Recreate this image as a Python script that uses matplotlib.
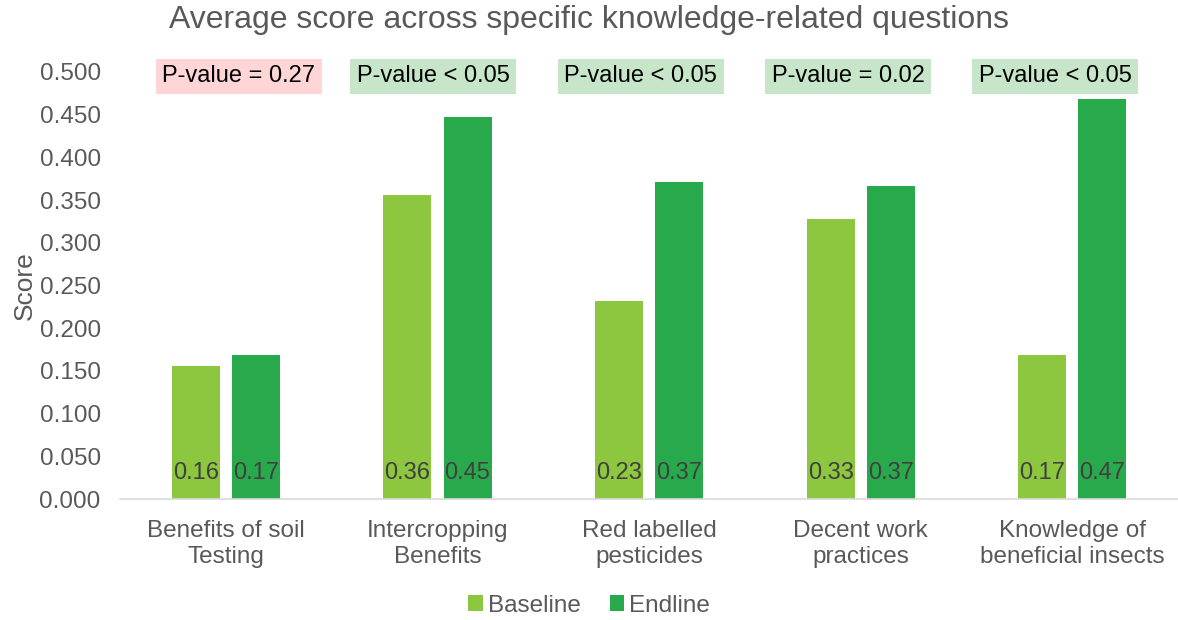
import numpy as np
import matplotlib
matplotlib.use("Agg")
import matplotlib.pyplot as plt

plt.rcParams['font.family'] = ['Liberation Sans', 'DejaVu Sans']

# datos
categorias = ["Benefits of soil\nTesting", "Intercropping\nBenefits", "Red labelled\npesticides",
              "Decent work\npractices", "Knowledge of\nbeneficial insects"]
baseline = [0.156, 0.356, 0.232, 0.328, 0.169]
endline = [0.169, 0.447, 0.371, 0.367, 0.468]
p_valores = ["P-value = 0.27", "P-value < 0.05", "P-value < 0.05", "P-value = 0.02", "P-value < 0.05"]
significativo = [False, True, True, True, True]

col_base = "#8DC63F"
col_end = "#28AA4C"
gris = "#595959"

fig = plt.figure(figsize=(11.78, 6.2), dpi=100)
ax = fig.add_axes([0.102, 0.195, 0.898, 0.689])

x = np.arange(len(categorias))
ancho = 0.227
desp = 0.142

b1 = ax.bar(x - desp, baseline, ancho, color=col_base, label="Baseline")
b2 = ax.bar(x + desp, endline, ancho, color=col_end, label="Endline")

# etiquetas de valor abajo de las barras
for barras, vals in [(b1, baseline), (b2, endline)]:
    for b, v in zip(barras, vals):
        ax.text(b.get_x() + b.get_width() / 2, 0.030, f"{v:.2f}", ha="center", va="center",
                fontsize=17, color="#404040")

# cajas de p-valor (corridas a mano como en el original)
for i, (txt, sig) in enumerate(zip(p_valores, significativo)):
    fc = "#C6E5C9" if sig else "#FFD5D5"
    xc = i * 0.98 if i > 0 else 0.06
    ax.text(xc, 0.4947, txt, ha="center", va="center", fontsize=17, color="black",
            bbox=dict(boxstyle="square,pad=0.28", fc=fc, ec="none"), clip_on=False)

ax.set_xlim(-0.5, len(categorias) - 0.5)
ax.set_ylim(0, 0.5)
ax.set_yticks(np.arange(0, 0.501, 0.05))
ax.set_yticklabels([f"{t:.3f}" for t in np.arange(0, 0.501, 0.05)])
ax.set_xticks(x)
ax.set_xticklabels(categorias, linespacing=1.25)
ax.tick_params(axis="both", length=0, labelsize=17.5, colors=gris)
ax.tick_params(axis="y", pad=14)
ax.tick_params(axis="x", pad=15)

for s in ["top", "right", "left"]:
    ax.spines[s].set_visible(False)
ax.spines["bottom"].set_color("#D9D9D9")
ax.spines["bottom"].set_linewidth(1.2)

ax.set_ylabel("Score", fontsize=19, color=gris, labelpad=2)
fig.text(0.5, 0.967, "Average score across specific knowledge-related questions",
         ha="center", va="center", fontsize=23, color=gris)

fig.legend(loc="center", bbox_to_anchor=(0.5, 0.023), ncol=2, frameon=False,
           fontsize=17.5, labelcolor=gris, handlelength=0.6, handleheight=0.6,
           handletextpad=0.2, columnspacing=1.2, borderpad=0, borderaxespad=0)

fig.savefig("out.png", dpi=100)
